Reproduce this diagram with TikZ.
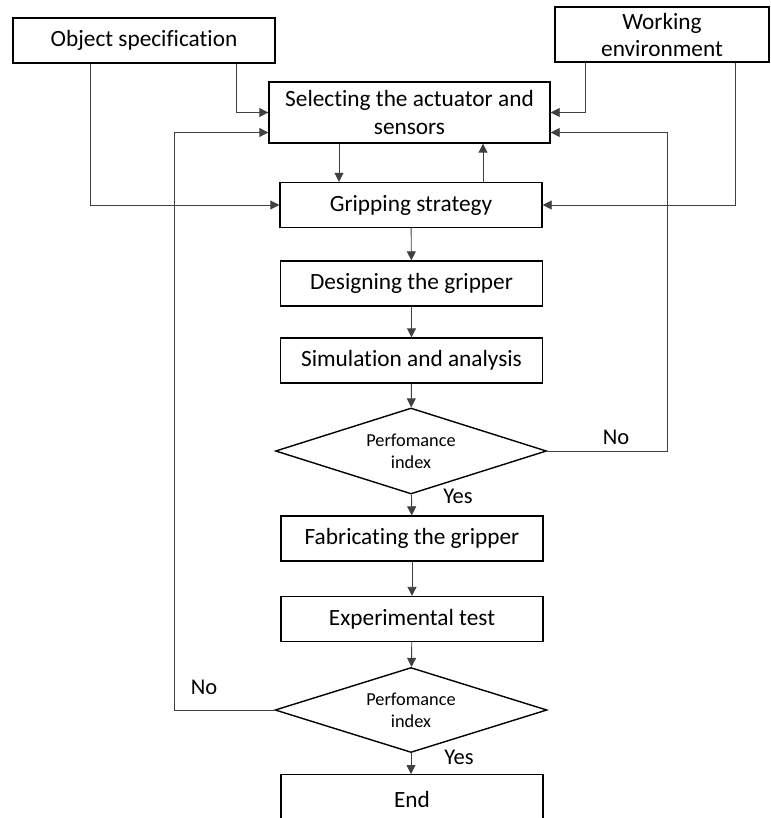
\documentclass[tikz,border=0pt]{standalone}
\usepackage{fontspec}
\setmainfont{Carlito}[Ligatures=NoCommon]
\usetikzlibrary{shapes.geometric,arrows.meta,calc}
\tikzset{
  procbox/.style={draw=black, line width=1.4pt, rectangle, minimum width=262pt, minimum height=45pt, inner sep=0pt, align=center, font=\fontsize{23.3}{27}\selectfont},
  decbox/.style={draw=black, line width=1.4pt, diamond, minimum width=271pt, minimum height=86pt, inner sep=0pt, aspect=3.15, align=center, font=\fontsize{18.3}{22}\selectfont},
  arr/.style={draw=black!75, line width=0.9pt, -{Triangle[length=9pt,width=9pt]}},
  lbl/.style={font=\fontsize{22.5}{24}\selectfont, inner sep=0pt}
}
\begin{document}
\begin{tikzpicture}[x=1pt,y=-1pt]
\useasboundingbox (0,0) rectangle (770,818);
\fill[white] (0,0) rectangle (770,818);
\node[procbox, minimum width=262pt] (obj) at (144,40.5) {Object specification};
\node[procbox, minimum width=214pt, minimum height=55pt, font=\fontsize{23.3}{27}\selectfont] (work) at (662,34.5) {Working\\environment};
\node[procbox, minimum width=281pt, minimum height=61pt, font=\fontsize{23.3}{28}\selectfont] (sel) at (409.5,112.5) {Selecting the actuator and\\sensors};
\node[procbox] (grip) at (411,205) {Gripping strategy};
\node[procbox] (des) at (411.5,283.5) {Designing the gripper};
\node[procbox] (sim) at (411.5,360.5) {Simulation and analysis};
\node[decbox] (d1) at (411,451) {Perfomance\\index};
\node[procbox] (fab) at (412,538.5) {Fabricating the gripper};
\node[procbox] (exp) at (412,619) {Experimental test};
\node[decbox, minimum width=272pt, minimum height=85pt] (d2) at (411,710) {Perfomance\\index};
\node[procbox, minimum height=60pt, anchor=north] (endbox) at (412,774) {};
\node[font=\fontsize{23.3}{26}\selectfont, inner sep=0pt] (endtxt) at (412,799) {End};
\coordinate (rc) at (667,0);
\coordinate (lc) at (174,0);
% inputs
\draw[arr] ([xshift=92pt]obj.south) |- (sel.west);
\draw[arr] ([xshift=-54pt]obj.south) |- (grip.west);
\draw[arr] ([xshift=-77pt]work.south) |- (sel.east);
\draw[arr] ([xshift=73pt]work.south) |- (grip.east);
% between sel and grip
\draw[arr] ([xshift=-70.5pt]sel.south) -- ([xshift=-70.5pt]sel.south |- grip.north);
\draw[arr] ([xshift=72pt]grip.north) -- ([xshift=72pt]grip.north |- sel.south);
% main chain
\draw[arr] (grip) -- (des);
\draw[arr] (des) -- (sim);
\draw[arr] (sim) -- (d1);
\draw[arr] (d1) -- (fab);
\draw[arr] (fab) -- (exp);
\draw[arr] (exp) -- (d2);
\draw[arr] (d2.south) -- (d2.south |- endbox.north);
% feedback loops
\draw[arr] (d1.east) -- (d1.east -| rc) |- ([yshift=-20pt]sel.east);
\draw[arr] (d2.west) -- (d2.west -| lc) |- ([yshift=-20pt]sel.west);
% labels
\node[lbl] (no1) at (616,437) {No};
\node[lbl] (yes1) at (458,496) {Yes};
\node[lbl] (no2) at (204,687) {No};
\node[lbl] (yes2) at (459,757) {Yes};
\end{tikzpicture}
\end{document}
